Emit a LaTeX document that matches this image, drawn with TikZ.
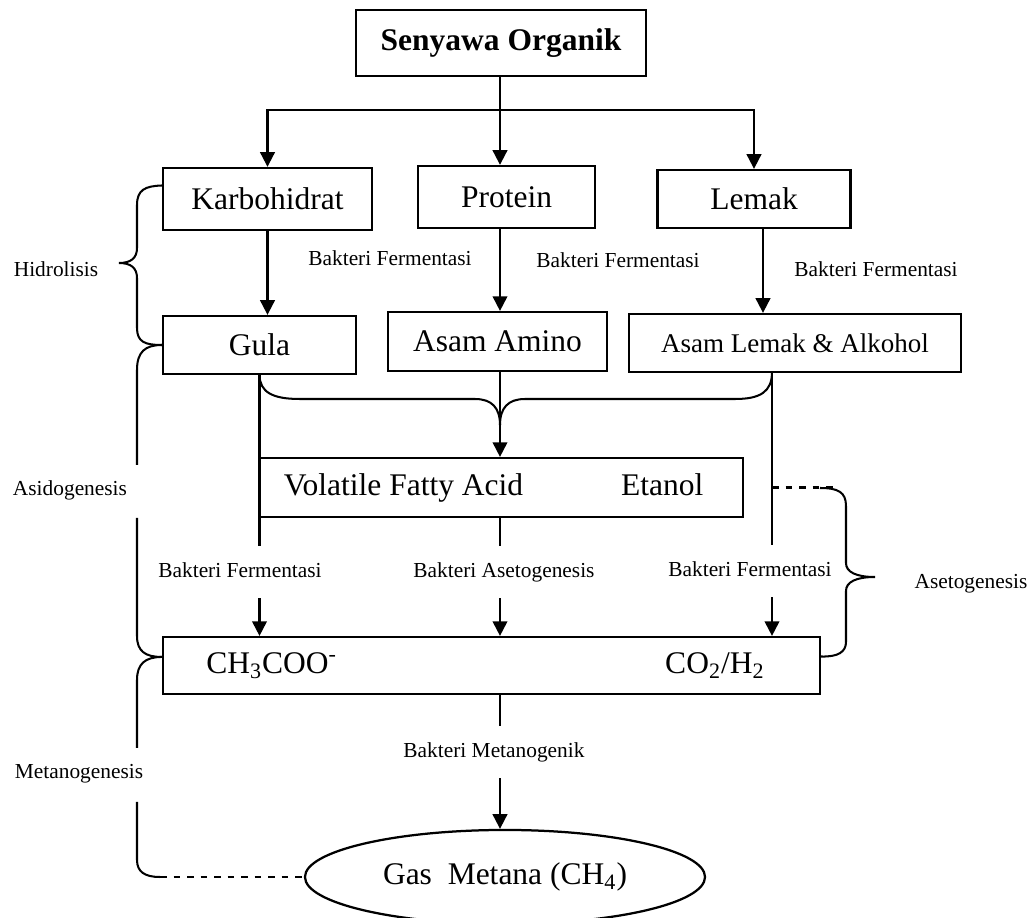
\documentclass[tikz,border=0pt]{standalone}
\usepackage{fontspec}
\setmainfont{Liberation Serif}
\usetikzlibrary{shapes,arrows.meta,positioning,calc}

\begin{document}
\begin{tikzpicture}[
    x=0.4444pt, y=-0.4444pt,
    line width=0.9pt,
    >={Triangle[width=6.5pt,length=6.5pt]},
    box/.style={rectangle, draw, line width=1pt, inner sep=0pt, align=center, font=\fontsize{14}{16}\selectfont},
    lbl/.style={inner xsep=0pt, inner ysep=6.8pt, text height=0.7em, text depth=0.2em, font=\fontsize{9.5}{11}\selectfont}
]

\useasboundingbox (0,0) rectangle (1029,918);

\node[box, minimum width=129.1pt, minimum height=29.3pt, font=\fontsize{14}{16}\selectfont\bfseries] (org) at (501,43) {Senyawa Organik};
\node[box, minimum width=92.9pt, minimum height=27.6pt] (karbo) at (267.5,199) {Karbohidrat};
\node[box, minimum width=78.7pt, minimum height=27.6pt] (protein) at (506.5,197) {Protein};
\node[box, minimum width=85.8pt, minimum height=25.8pt] (lemak) at (754,199) {Lemak};
\node[box, minimum width=85.8pt, minimum height=25.8pt] (gula) at (259.5,345) {Gula};
\node[box, minimum width=97.3pt, minimum height=26.2pt] (amino) at (497.5,341.5) {Asam Amino};
\node[box, minimum width=147.6pt, minimum height=25.8pt, font=\fontsize{12}{14}\selectfont] (lemakalk) at (795,343) {Asam Lemak \& Alkohol};
\node[box, minimum width=214.7pt, minimum height=26.2pt] (vfa) at (501.5,487.5) {Volatile Fatty Acid\hspace{43.5pt}Etanol\hspace{7pt}};
\node[box, minimum width=292pt, minimum height=25.3pt] (asetat) at (491.5,665.5) {CH\textsubscript{3}COO\textsuperscript{-}\hspace{145.8pt}CO\textsubscript{2}/H\textsubscript{2}\hspace{5.3pt}};
\node[box, ellipse, minimum width=177.8pt, minimum height=41.8pt] (metana) at (505,877) {Gas\ \ Metana (CH\textsubscript{4})};

\node[lbl] (bf1) at (390,260) {Bakteri Fermentasi};
\node[lbl] (bf2) at (618,262) {Bakteri Fermentasi};
\node[lbl] (bf3) at (876,271) {Bakteri Fermentasi};
\node[lbl] (bfl) at (240,572) {Bakteri Fermentasi};
\node[lbl] (ba) at (504,572) {Bakteri Asetogenesis};
\node[lbl] (bfr) at (750,571) {Bakteri Fermentasi};
\node[lbl] (bm) at (494,752) {Bakteri Metanogenik};

\node[lbl] (hidro) at (56,271) {Hidrolisis};
\node[lbl] (asido) at (70,490) {Asidogenesis};
\node[lbl] (metano) at (79,773) {Metanogenesis};
\node[lbl] (aseto) at (971,583) {Asetogenesis};

\coordinate (split) at (500,110);
\coordinate (ldrop) at ([xshift=4pt]lemak.south);
\coordinate (rjoin) at (772,372);
\coordinate (am) at ([yshift=3.8pt]asetat.west);
\coordinate (ae) at ([yshift=4pt]asetat.east);

\draw (org.south -| split) -- (split);
\draw[->] (split) -| (karbo.north);
\draw[->] (split) -| (lemak.north);
\draw[->] (split) -- (split |- protein.north);

\draw[->] (karbo.south) -- (karbo.south |- gula.north);
\draw[->] (split |- protein.south) -- (split |- amino.north);
\draw[->] (ldrop) -- (ldrop |- lemakalk.north);

\draw (gula.south) .. controls (260,392) and (272,399) .. (300,399) -- (475,399) .. controls (492,399) and (500,408) .. (500,425);
\draw (rjoin) .. controls (772,392) and (760,399) .. (735,399) -- (525,399) .. controls (508,399) and (500,408) .. (500,425);
\draw[->] (split |- amino.south) -- (split |- vfa.north);

\draw (gula.south) -- (gula.south |- bfl.north);
\draw[->] (gula.south |- bfl.south) -- (gula.south |- asetat.north);
\draw (split |- vfa.south) -- (split |- ba.north);
\draw[->] (split |- ba.south) -- (split |- asetat.north);
\draw (rjoin) -- (rjoin |- bfr.north);
\draw[->] (rjoin |- bfr.south) -- (rjoin |- asetat.north);
\draw (split |- asetat.south) -- (split |- bm.north);
\draw[->] (split |- bm.south) -- (split |- metana.north);

\draw[dashed] (rjoin |- vfa.east) -- ++(64,0);
\draw[dashed] (160,877) -- (metana.west);

\draw ([yshift=6pt]karbo.west) .. controls (145,186) and (137,190) .. (137,205) -- (137,248) .. controls (137,258) and (131,263) .. (119,263) .. controls (131,263) and (137,268) .. (137,278) -- (137,328) .. controls (137,342) and (145,345) .. (gula.west);
\draw (gula.west) .. controls (145,345) and (137,352) .. (137,370) -- (137,465);
\draw (137,518) -- (137,636) .. controls (137,651) and (145,657) .. (am);
\draw (am) .. controls (145,657) and (137,664) .. (137,680) -- (137,748);
\draw (137,802) -- (137,860) .. controls (137,872) and (145,877) .. (160,877);
\draw (820,488) .. controls (838,488) and (846,492) .. (846,506) -- (846,563) .. controls (846,572) and (856,577) .. (875,577) .. controls (856,577) and (846,582) .. (846,591) -- (846,642) .. controls (846,652) and (838,657) .. (ae);

\end{tikzpicture}
\end{document}
